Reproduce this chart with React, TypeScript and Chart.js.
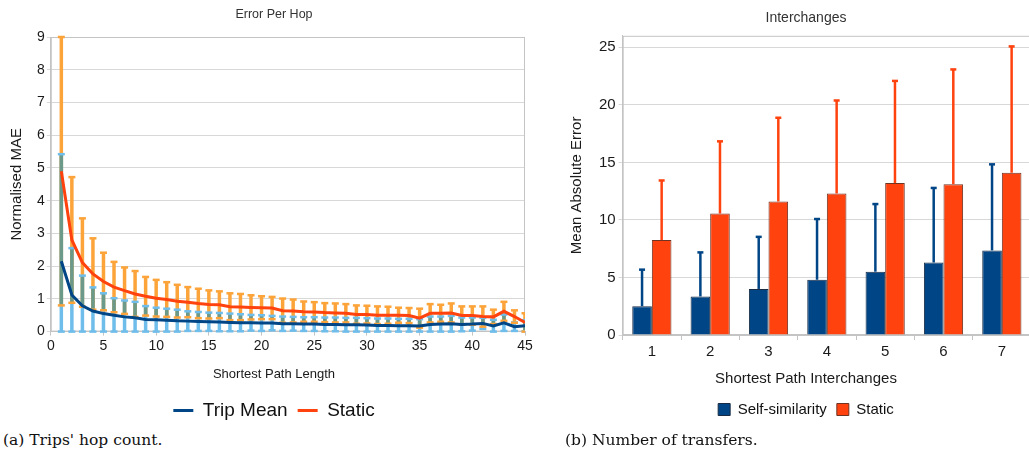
import React, { useEffect, useRef } from "react";
import { Chart, registerables } from "chart.js";

Chart.register(...registerables);

const SANS = "'Liberation Sans', Arial, sans-serif";
const SERIF = "'DejaVu Serif', 'Liberation Serif', serif";

// ---- Error per hop ----
const hops = [
  1, 2, 3, 4, 5, 6, 7, 8, 9, 10, 11, 12, 13, 14, 15, 16, 17, 18, 19, 20, 21, 22, 23,
  24, 25, 26, 27, 28, 29, 30, 31, 32, 33, 34, 35, 36, 37, 38, 39, 40, 41, 42, 43, 44, 45,
];
const tripMean = [
  2.15, 1.12, 0.79, 0.63, 0.55, 0.5, 0.45, 0.42, 0.37, 0.36, 0.35, 0.33, 0.32, 0.31, 0.3,
  0.29, 0.28, 0.27, 0.27, 0.26, 0.26, 0.24, 0.24, 0.23, 0.23, 0.22, 0.22, 0.21, 0.21, 0.2,
  0.19, 0.19, 0.18, 0.18, 0.17, 0.22, 0.23, 0.24, 0.22, 0.23, 0.25, 0.17, 0.27, 0.15, 0.18,
];
const tripErr = [
  3.27, 1.43, 0.92, 0.72, 0.62, 0.52, 0.5, 0.49, 0.41, 0.37, 0.35, 0.34, 0.3, 0.29, 0.28,
  0.28, 0.27, 0.26, 0.24, 0.24, 0.22, 0.22, 0.21, 0.21, 0.21, 0.21, 0.21, 0.21, 0.21, 0.21,
  0.21, 0.21, 0.21, 0.21, 0.21, 0.24, 0.23, 0.24, 0.21, 0.2, 0.17, 0.19, 0.25, 0.13, 0.17,
];
const staticMean = [
  4.9, 2.8, 2.11, 1.76, 1.53, 1.36, 1.25, 1.15, 1.08, 1.02, 0.98, 0.93, 0.9, 0.86, 0.83,
  0.82, 0.76, 0.75, 0.74, 0.73, 0.72, 0.64, 0.63, 0.61, 0.6, 0.58, 0.57, 0.56, 0.52, 0.52,
  0.5, 0.5, 0.5, 0.49, 0.41, 0.56, 0.56, 0.57, 0.49, 0.49, 0.46, 0.45, 0.62, 0.46, 0.28,
];
const staticErr = [
  4.1, 1.92, 1.35, 1.09, 0.88, 0.77, 0.71, 0.7, 0.59, 0.56, 0.53, 0.5, 0.46, 0.45, 0.43,
  0.41, 0.41, 0.4, 0.37, 0.35, 0.34, 0.37, 0.35, 0.31, 0.3, 0.29, 0.29, 0.28, 0.28, 0.27,
  0.27, 0.26, 0.23, 0.23, 0.29, 0.28, 0.26, 0.29, 0.28, 0.28, 0.31, 0.22, 0.29, 0.19, 0.28,
];

// ---- Interchanges ----
const interchanges = ["1", "2", "3", "4", "5", "6", "7"];
const selfSimMean = [2.5, 3.35, 4.0, 4.8, 5.5, 6.3, 7.35];
const selfSimErr = [3.2, 3.85, 4.55, 5.3, 5.9, 6.5, 7.5];
const staticBarMean = [8.25, 10.55, 11.6, 12.3, 13.2, 13.1, 14.1];
const staticBarErr = [5.2, 6.3, 7.3, 8.1, 8.9, 10.0, 11.0];

const BLUE = "#004586";
const RED = "#ff420e";
const TRIP_ERR = "#6fbdea";
const STATIC_ERR = "#fca43a";
const OVERLAP = "#6c9a8a";
const GRID = "#d8d8d8";
const AXIS = "#c4c4c4";
const TEXT = "#1a1a1a";

// light frame around the plotting area
const plotFrame = {
  id: "plotFrame",
  beforeDatasetsDraw(chart: any) {
    const { ctx, chartArea } = chart;
    const { left, top, right, bottom } = chartArea;
    ctx.save();
    ctx.strokeStyle = AXIS;
    ctx.lineWidth = 1;
    ctx.strokeRect(left + 0.5, top + 0.5, right - left - 1, bottom - top - 1);
    ctx.restore();
  },
};

// symmetric error bars (clipped at zero) for both hop series
const hopErrorBars = {
  id: "hopErrorBars",
  beforeDatasetsDraw(chart: any) {
    const { ctx, chartArea } = chart;
    const x = chart.scales.x;
    const y = chart.scales.y;
    ctx.save();
    ctx.beginPath();
    ctx.rect(chartArea.left, chartArea.top - 3, chartArea.width, chartArea.height + 6);
    ctx.clip();
    hops.forEach((h, i) => {
      const px = x.getPixelForValue(h);
      const tLo = Math.max(0, tripMean[i] - tripErr[i]);
      const tHi = tripMean[i] + tripErr[i];
      const sLo = Math.max(0, staticMean[i] - staticErr[i]);
      const sHi = staticMean[i] + staticErr[i];
      const seg = (a: number, b: number, color: string) => {
        const ya = y.getPixelForValue(a);
        const yb = y.getPixelForValue(b);
        ctx.fillStyle = color;
        ctx.fillRect(px - 1.75, yb, 3.5, ya - yb);
      };
      seg(tLo, tHi, TRIP_ERR);
      seg(sLo, sHi, STATIC_ERR);
      const oLo = Math.max(tLo, sLo);
      const oHi = Math.min(tHi, sHi);
      if (oHi > oLo) seg(oLo, oHi, OVERLAP);
      const cap = (v: number, color: string) => {
        const py = y.getPixelForValue(v);
        ctx.fillStyle = color;
        ctx.fillRect(px - 3.5, py - 1.25, 7, 2.5);
      };
      cap(tLo, TRIP_ERR);
      cap(tHi, TRIP_ERR);
      cap(sLo, STATIC_ERR);
      cap(sHi, STATIC_ERR);
    });
    ctx.restore();
  },
};

// upward error whiskers on top of each bar
const barErrors = [selfSimErr, staticBarErr];
const barErrColors = [BLUE, RED];
const barErrorBars = {
  id: "barErrorBars",
  afterDatasetsDraw(chart: any) {
    const { ctx } = chart;
    const y = chart.scales.y;
    ctx.save();
    chart.data.datasets.forEach((ds: any, di: number) => {
      const meta = chart.getDatasetMeta(di);
      meta.data.forEach((bar: any, i: number) => {
        const top = y.getPixelForValue(ds.data[i] + barErrors[di][i]);
        ctx.strokeStyle = barErrColors[di];
        ctx.lineWidth = 2.5;
        ctx.beginPath();
        ctx.moveTo(bar.x, bar.y);
        ctx.lineTo(bar.x, top);
        ctx.stroke();
        ctx.fillStyle = barErrColors[di];
        ctx.fillRect(bar.x - 3, top - 1, 6, 2.5);
      });
    });
    ctx.restore();
  },
};

// empty right-hand axis used only as horizontal spacing
const spacerAxis = (width: number) => ({
  type: "linear" as const,
  position: "right" as const,
  display: true,
  ticks: { display: false },
  grid: { display: false },
  border: { display: false },
  afterFit: (scale: any) => {
    scale.width = width;
  },
});

function HopChart() {
  const ref = useRef<HTMLCanvasElement>(null);
  useEffect(() => {
    if (!ref.current) return;
    const chart = new Chart(ref.current, {
      type: "line",
      data: {
        datasets: [
          {
            label: "Trip Mean",
            data: hops.map((h, i) => ({ x: h, y: tripMean[i] })),
            borderColor: BLUE,
            backgroundColor: BLUE,
            borderWidth: 3,
            pointRadius: 0,
            tension: 0,
          },
          {
            label: "Static",
            data: hops.map((h, i) => ({ x: h, y: staticMean[i] })),
            borderColor: RED,
            backgroundColor: RED,
            borderWidth: 3,
            pointRadius: 0,
            tension: 0,
          },
        ],
      },
      options: {
        animation: false,
        responsive: false,
        devicePixelRatio: 1,
        layout: { padding: { left: 6, right: 6, top: 0, bottom: 0 } },
        plugins: {
          title: {
            display: true,
            text: "Error Per Hop",
            color: "#333",
            font: { family: SANS, size: 12.5, weight: "normal" },
            padding: { top: 7, bottom: 15 },
          },
          subtitle: {
            display: true,
            position: "bottom",
            weight: 500,
            text: "Shortest Path Length",
            color: TEXT,
            font: { family: SANS, size: 13, weight: "normal" },
            padding: { top: 10, bottom: 9 },
          } as any,
          legend: {
            position: "bottom",
            labels: {
              usePointStyle: true,
              pointStyle: "line",
              pointStyleWidth: 20,
              color: "#111",
              font: { family: SANS, size: 19 },
              padding: 10,
            },
          },
          tooltip: { enabled: false },
        },
        scales: {
          x: {
            type: "linear",
            min: 0,
            max: 45,
            ticks: { stepSize: 5, color: TEXT, font: { family: SANS, size: 14 }, padding: 2 },
            grid: { drawOnChartArea: false, tickLength: 4, color: AXIS },
            border: { color: AXIS },
          },
          y: {
            min: 0,
            max: 9,
            ticks: { stepSize: 1, color: TEXT, font: { family: SANS, size: 14 }, padding: 2 },
            grid: { color: GRID, tickLength: 4 },
            border: { color: AXIS },
            title: {
              display: true,
              text: "Normalised MAE",
              color: TEXT,
              font: { family: SANS, size: 15 },
              padding: { top: 2, bottom: 9 },
            },
          },
          spacer: spacerAxis(17),
        },
      },
      plugins: [plotFrame, hopErrorBars],
    });
    return () => chart.destroy();
  }, []);
  return (
    <canvas
      ref={ref}
      width={548}
      height={430}
      style={{ position: "absolute", left: 0, top: 0, width: 548, height: 430 }}
    />
  );
}

function InterchangeChart() {
  const ref = useRef<HTMLCanvasElement>(null);
  useEffect(() => {
    if (!ref.current) return;
    const chart = new Chart(ref.current, {
      type: "bar",
      data: {
        labels: interchanges,
        datasets: [
          {
            label: "Self-similarity",
            data: selfSimMean,
            backgroundColor: BLUE,
            borderColor: "#1a2c44",
            borderWidth: 1,
            categoryPercentage: 0.672,
            barPercentage: 1,
          },
          {
            label: "Static",
            data: staticBarMean,
            backgroundColor: RED,
            borderColor: "#6e3424",
            borderWidth: 1,
            categoryPercentage: 0.672,
            barPercentage: 1,
          },
        ],
      },
      options: {
        animation: false,
        responsive: false,
        devicePixelRatio: 1,
        layout: { padding: { left: 24, right: 24, top: 0, bottom: 3 } },
        plugins: {
          title: {
            display: true,
            text: "Interchanges",
            color: "#333",
            font: { family: SANS, size: 14, weight: "normal" },
            padding: { top: 10, bottom: 9 },
          },
          subtitle: {
            display: true,
            position: "bottom",
            weight: 500,
            text: "Shortest Path Interchanges",
            color: TEXT,
            font: { family: SANS, size: 15, weight: "normal" },
            padding: { top: 6, bottom: 4 },
          } as any,
          legend: {
            position: "bottom",
            labels: {
              boxWidth: 12,
              boxHeight: 12,
              color: "#111",
              font: { family: SANS, size: 15 },
              padding: 10,
            },
          },
          tooltip: { enabled: false },
        },
        scales: {
          x: {
            ticks: { color: TEXT, font: { family: SANS, size: 15 }, padding: 3 },
            grid: { drawOnChartArea: false, tickLength: 5, color: AXIS },
            border: { color: AXIS },
          },
          y: {
            min: 0,
            max: 26,
            ticks: {
              stepSize: 5,
              includeBounds: false,
              color: TEXT,
              font: { family: SANS, size: 15 },
              padding: 3,
            },
            grid: { color: GRID, tickLength: 4 },
            border: { color: AXIS },
            title: {
              display: true,
              text: "Mean Absolute Error",
              color: TEXT,
              font: { family: SANS, size: 15 },
              padding: { top: 4, bottom: 10 },
            },
          },
          spacer: spacerAxis(17),
        },
      },
      plugins: [plotFrame, barErrorBars],
    });
    return () => chart.destroy();
  }, []);
  return (
    <canvas
      ref={ref}
      width={532}
      height={430}
      style={{ position: "absolute", left: 540, top: 0, width: 532, height: 430 }}
    />
  );
}

const captionStyle: React.CSSProperties = {
  position: "absolute",
  top: 430,
  fontFamily: SERIF,
  fontSize: 15.5,
  lineHeight: "20px",
  color: "#111",
  whiteSpace: "nowrap",
};

export default function App() {
  return (
    <div
      style={{
        position: "absolute",
        left: 0,
        top: 0,
        width: 1029,
        height: 456,
        overflow: "hidden",
        background: "#fff",
      }}
    >
      <HopChart />
      <InterchangeChart />
      <div style={{ ...captionStyle, left: 3 }}>(a) Trips' hop count.</div>
      <div style={{ ...captionStyle, left: 565 }}>(b) Number of transfers.</div>
    </div>
  );
}
